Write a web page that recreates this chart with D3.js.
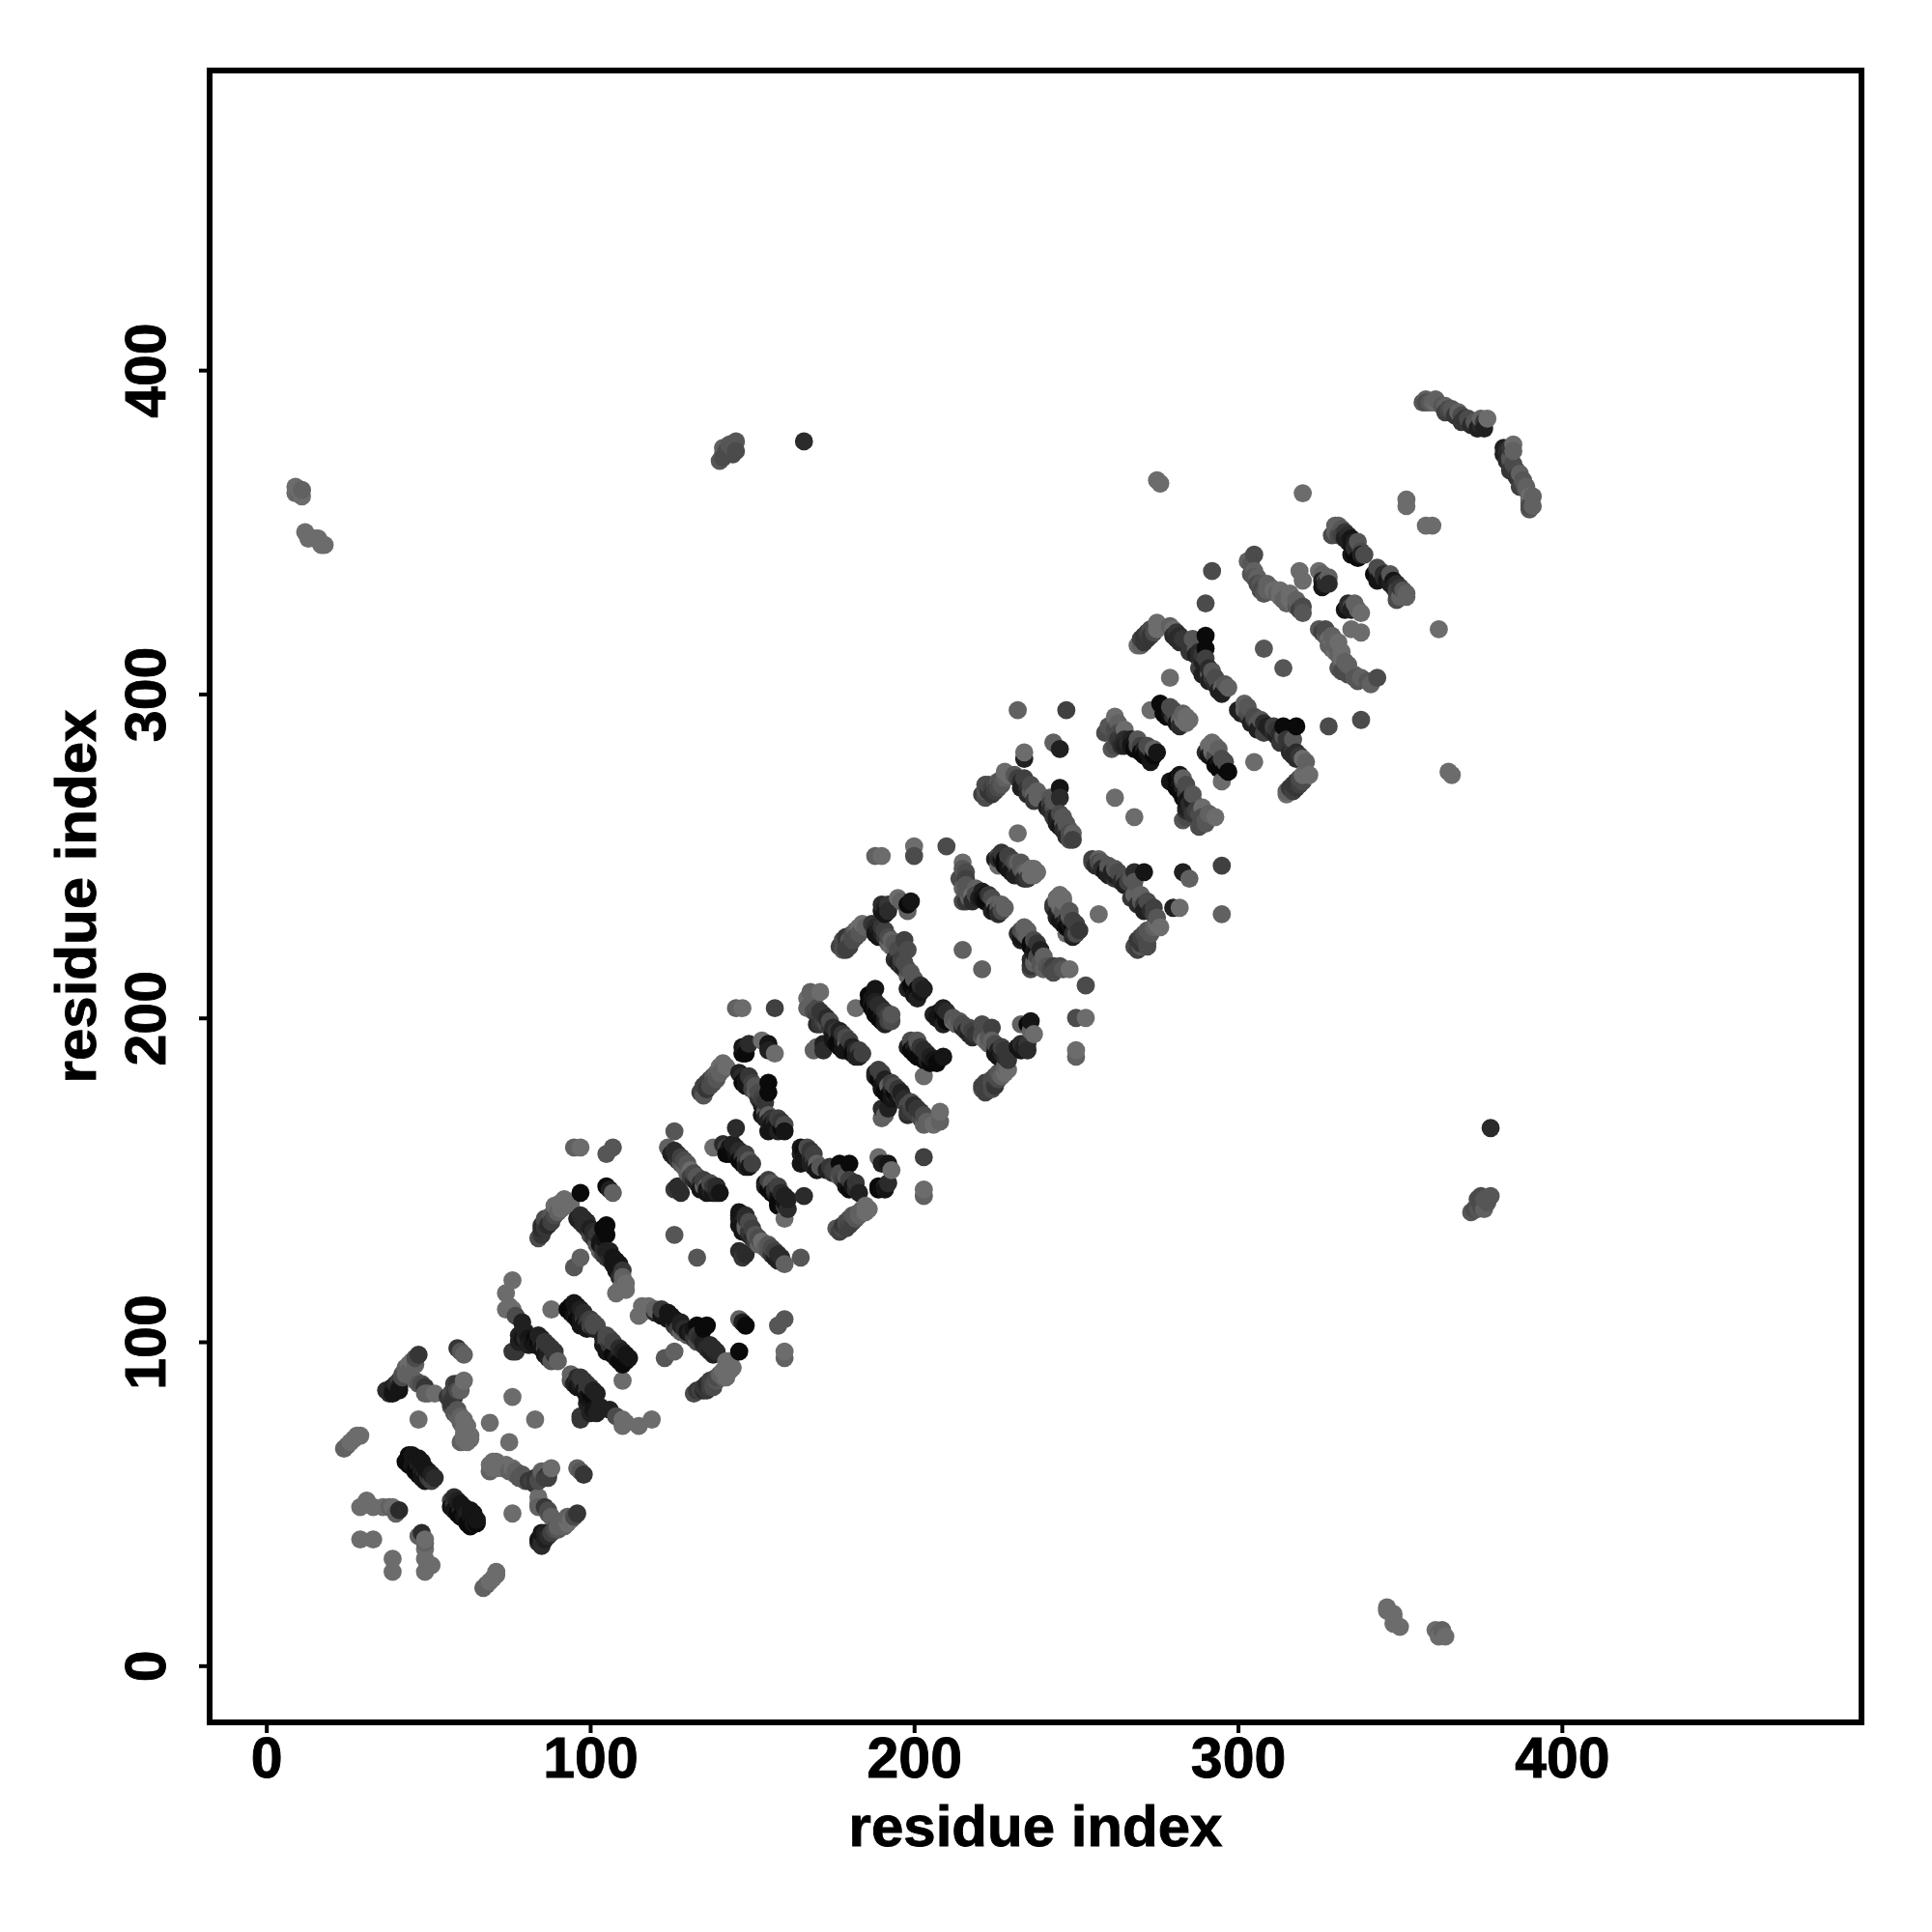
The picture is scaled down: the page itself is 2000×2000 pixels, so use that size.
<!DOCTYPE html>
<html><head><meta charset="utf-8"><script src="https://cdn.jsdelivr.net/npm/d3@7"></script>
<style>html,body{margin:0;background:#fff}svg{display:block}</style></head><body><svg id="c" width="2000" height="2000"></svg>
<script>
const tickLabels=[0,100,200,300,400];
const axisDomain=[-17.5,492.5];
const axisTitle="residue index";
// each contact: [residue i, residue j, strength 0-9]; the map is symmetric
const contactsFar=[[9,364,0],[10,362,1],[10,363,0],[11,361,0],[12,350,0],[13,348,0],[15,348,0],[16,348,0],[17,346,0],[18,346,0],[11,363,1],[9,362,0],
[140,372,2],[141,374,2],[141,376,1],[143,377,2],[144,374,3],[145,378,2],[145,375,3],[141,373,3],[142,375,3],[144,376,2],[166,378,6],[275,366,0],[276,365,0],[320,362,0],[352,360,0],[352,358,0],
[358,391,1],[359,390,2],[360,390,1],[361,390,0],[363,389,2],[364,389,1],[365,388,3],[366,388,2],[368,387,1],[369,386,3],[370,385,5],[371,385,3],[372,384,3],[373,384,2],[375,383,6],[376,384,5],[377,385,0],
[357,390,2],[358,390,3],[361,391,1],[364,387,4],[367,386,5],[369,384,5],[372,383,6],[374,382,7],[375,385,1],[376,382,7]];
const contactsLow=[[24,67,1],[25,68,1],[26,69,0],[27,70,0],[28,71,0],[29,71,0],
[29,49,0],[31,51,0],[33,49,0],[36,49,0],[38,49,1],[39,49,0],[41,48,6],[40,47,1],[29,39,0],[33,39,0],
[37,85,6],[38,85,6],[39,86,7],[40,87,6],[41,88,4],[42,90,2],[43,92,1],[44,93,0],[43,90,1],[45,94,0],[47,96,5],
[46,88,1],[47,87,2],[48,87,3],[49,86,5],[50,84,1],[52,84,0],[49,84,1],
[44,64,8],[45,63,9],[46,63,8],[45,62,8],[46,61,8],[47,62,7],[48,60,7],[49,60,6],[50,58,5],[51,57,4],
[47,76,0],[59,98,5],[61,96,1],[60,97,2],[61,88,0],[59,87,5],[58,86,4],[57,84,3],[57,82,4],[57,80,2],[58,78,2],[59,77,1],[61,76,0],[62,74,0],[62,72,0],[63,70,0],[60,69,1],[62,69,0],[63,71,0],[69,75,0],[76,83,0],
[76,119,0],[74,115,0],[74,110,0],[76,110,0],[75,111,0],[77,108,3],[79,106,7],[79,103,7],[78,100,7],[76,97,5],[77,97,5],[80,101,6],[81,101,8],[82,100,8],[83,101,9],[84,100,9],[85,99,5],[86,98,4],[87,97,7],[88,96,7],[89,96,6],[88,94,2],[90,94,1],
[88,110,0],[94,111,9],[95,110,9],[95,108,8],[96,109,7],[97,107,8],[97,105,8],[98,107,5],[99,106,5],[100,105,4],[101,106,3]];
const rowsLow=[[44,65,9],[45,65,8],[47,64,8],[48,63,8],[49,61,8],[50,60,8],[51,59,7],[52,58,6],[43,63,9],[44,62,9],[46,60,9],[47,59,9],[48,58,8],[49,57,8],
[38,84,6],[39,84,8],[41,86,7],[41,85,8],[42,89,3],[44,91,1],[46,93,1],[46,95,3],
[78,102,7],[79,101,8],[80,103,7],[81,99,7],[83,99,8],[84,102,7],[85,101,7],[86,100,5],[87,99,5],[88,98,5],[89,97,5],[85,98,8],[86,96,8],[87,95,7],
[93,110,9],[94,109,9],[95,112,8],[96,111,8],[96,107,9],[97,110,7],[98,109,6],[98,105,8],[99,104,8],[100,107,4],[101,104,7],[101,105,3],[102,105,3],
[58,87,4],[59,85,3],[60,85,1],[58,83,5],[57,81,5],[56,83,5],[59,79,2],[60,77,1],[60,75,1],[61,73,0],[61,71,0],[61,70,0]];
const contactsMid=[[84,132,3],[85,134,4],[85,136,5],[86,137,4],[87,138,3],[88,139,2],[89,141,1],[90,142,0],[91,143,0],[92,142,0],[94,143,0],[94,142,0],
[97,146,9],[97,137,7],[98,136,6],[99,135,6],[100,133,3],[101,132,5],[102,130,2],[103,128,1],[105,136,9],[105,133,9],[104,127,4],[105,126,5],[106,126,6],[107,124,8],[108,122,8],[109,124,8],[109,120,6],[110,118,0],[111,118,0],[108,115,0],[109,116,0],[111,116,0],
[105,148,9],[106,147,7],[107,146,1],[105,158,2],[107,160,2],[95,160,1],[97,160,0],[97,126,1],[95,123,2],
[124,160,1],[126,165,2],[125,158,7],[126,157,7],[127,156,5],[128,155,2],[129,154,1],[130,152,1],[131,153,0],[132,150,6],[133,149,7],[134,149,5],[135,148,1],[136,148,1],[137,147,7],[138,146,8],[139,146,7],[126,147,5],[127,148,6],[128,146,6],[126,133,2],
[138,160,0],[142,160,4],[143,160,8],[144,159,9],[145,158,8],[146,157,7],[147,157,5],[148,156,4],[149,156,2],[145,166,6],
[135,178,3],[135,176,2],[136,179,4],[136,180,4],[137,181,4],[138,182,2],[139,183,1],[140,185,0],[141,186,0],[142,185,0],
[147,182,6],[148,181,8],[149,180,8],[150,178,4],[151,177,1],[152,175,5],[153,173,7],[154,171,2],[155,180,9],[155,177,9],[155,170,1],[156,169,5],[157,168,6],[158,167,8],[159,166,9],[155,165,8],[156,166,8],[158,165,7],
[147,189,9],[148,191,7],[149,192,6],[153,193,0],[155,192,8],[157,189,0],[145,203,1],[147,203,0],[157,203,4],
[168,208,1],[171,208,0],[167,206,0],[167,203,1],[168,204,1],[169,202,3],[170,201,4],[171,200,4],[172,199,4],[173,198,3],[174,197,5],[175,195,8],[176,194,7],[177,194,9],[178,193,7],[179,192,1],[180,191,8],[181,191,7],[182,190,6],[183,190,4],[169,190,1],[170,191,1],[172,192,7],[172,190,6],
[182,203,0],[188,209,8],[187,204,7],[187,206,8],[188,203,8],[189,202,9],[190,201,8],[191,200,7],[192,199,4],[193,199,3],
[178,221,2],[178,222,3],[179,223,4],[179,225,5],[180,224,2],[181,226,3],[182,227,1],[183,228,0],[184,229,0],[185,228,1],[188,228,6],[189,227,7],[190,226,7],[191,225,5],[192,223,1],[193,222,0],[194,221,1],[197,224,4],[198,221,3],[195,219,5],[196,216,6],[197,215,7],[198,213,1],[199,212,0],[200,210,9],[201,209,9],[198,209,7],[202,208,8],
[190,233,8],[191,234,7],[192,235,5],[195,237,0],[196,236,1],[198,233,1],[198,235,9],[199,236,8]];
const rowsMid=[[85,133,5],[85,135,6],[86,135,5],[86,138,3],[87,136,6],[88,137,4],[89,139,3],[89,142,0],[90,140,1],[91,141,0],[92,144,0],
[96,138,7],[97,139,6],[98,138,6],[99,137,6],[100,135,7],[101,134,6],[102,133,5],[103,131,7],[104,129,6],[105,128,7],[106,128,7],[107,126,8],[108,125,8],[110,122,5],[110,120,1],[104,132,8],[104,135,9],[103,130,8],
[126,159,6],[127,158,6],[128,157,4],[129,156,3],[130,155,2],[131,151,4],[132,152,3],[133,151,2],[134,147,8],[135,150,4],[136,146,8],[137,149,3],[138,148,5],[139,148,6],[140,146,8],[136,147,8],
[141,161,6],[142,158,9],[143,158,9],[144,161,7],[145,160,7],[146,159,6],[147,155,9],[148,158,4],[149,154,8],[150,155,4],[146,156,9],[148,154,7],
[134,177,4],[135,179,4],[136,178,5],[137,179,3],[138,180,3],[139,181,2],[140,183,1],[141,184,1],
[146,183,7],[147,180,9],[148,179,8],[149,182,5],[150,180,4],[151,179,2],[152,177,3],[153,175,4],[154,174,5],[153,170,8],[154,169,7],[155,168,7],[156,167,8],[157,166,8],[158,169,4],[159,168,5],[160,167,3],[160,165,8],
[147,191,8],[148,189,9],[155,190,7],
[170,203,3],[171,202,5],[172,201,5],[173,200,6],[174,199,3],[175,197,6],[176,196,5],[177,196,7],[178,195,5],[179,194,3],[180,193,4],[181,189,9],[182,188,7],[183,188,7],[184,189,4],[175,193,8],[176,192,9],[177,191,9],[178,190,8],[179,190,8],[170,198,6],[171,198,5],
[186,207,9],[186,205,9],[187,203,9],[188,205,7],[188,201,9],[189,204,6],[190,203,6],[191,202,5],[192,201,4],[193,201,2],[189,200,9],[190,199,9],[191,198,7],
[177,222,4],[178,224,3],[179,221,4],[180,222,4],[181,224,3],[182,225,3],[183,226,2],[187,229,5],[188,226,8],[189,225,8],[190,228,5],[191,227,4],[192,225,3],[193,224,1],[194,223,2],[195,221,3],[194,218,6],[195,217,7],[196,218,4],[197,217,3],[198,215,3],[199,214,2],[200,212,2],[199,210,9],[200,207,8],[201,206,7],[202,210,6],[203,209,7],
[190,235,6],[191,232,8],[192,233,6]];
const contactsHigh=[[215,221,1],[188,250,1],[190,250,0],[200,253,0],[200,250,3],[210,253,3],
[215,248,0],[215,246,2],[216,245,3],[216,243,4],[216,241,2],[215,236,3],[216,236,5],[217,237,1],[218,238,0],[219,240,1],[221,239,7],[222,238,8],[223,236,9],[224,233,7],[225,235,1],[226,234,2],[227,235,1],[228,234,1],
[226,250,3],[226,247,0],[227,249,8],[228,249,9],[229,248,8],[230,247,6],[232,246,3],[233,246,2],[234,245,1],[235,245,0],[236,244,0],[237,244,0],[232,257,0],
[222,268,3],[222,270,2],[223,270,5],[224,271,4],[225,272,3],[226,273,2],[228,274,1],[229,275,0],[231,275,2],[232,274,4],[233,273,6],[234,272,7],[235,271,5],[236,270,2],[237,269,1],[238,268,1],[245,271,8],[245,268,6],[242,268,2],[242,266,4],[243,265,3],[243,262,5],[244,262,7],[245,261,7],[246,260,2],[247,258,4],[248,258,2],[249,257,1],[247,256,6],[248,255,3],
[262,268,0],[243,285,1],[245,283,7],[247,295,4],[232,295,1],[234,280,7],[234,282,0],
[262,293,0],[263,291,1],[265,289,0],[263,288,3],[264,287,4],[264,286,5],[261,283,2],[262,284,3],[265,286,6],[267,286,7],[268,285,8],[269,284,3],[270,284,4],[271,283,7],[272,282,8],[273,281,8],[274,281,9],
[273,295,0],[277,296,9],[278,295,9],[279,294,8],[280,293,5],[281,293,3],[282,292,1],[283,292,0],[284,291,0],
[269,315,0],[270,315,1],[270,317,4],[271,318,5],[272,317,5],[273,320,3],[275,322,0],[275,320,0],[280,320,0],[281,319,5],[282,318,6],[283,317,5],[286,315,5],[287,314,2],[290,318,9],[290,314,9],[288,311,6],[288,308,4],[289,310,7],[290,309,7],[291,306,2],[292,305,5],[293,303,6],[294,303,3],[295,302,1],
[279,305,0],[290,328,3],[292,338,3],
[303,341,1],[305,343,3],[305,338,1],[306,336,1],[307,334,2],[308,333,3],[309,332,1],[311,332,0],[312,331,1],[313,330,0],[315,330,1],[316,329,0],[317,328,0],[318,327,2],[320,327,3],[308,314,2],
[319,338,0],[320,335,0],[325,338,0],[326,337,1],[327,335,3],[327,334,6],
[330,350,1],[331,352,1],[332,351,2],[333,350,5],[334,349,6],[335,348,8],[336,347,7],[337,345,6],[338,344,3],[336,343,9]];
const rowsHigh=[[214,243,3],[215,242,3],[215,240,1],[216,239,2],[217,239,2],[218,236,6],[219,238,3],[220,237,7],[221,237,8],[222,236,9],[223,238,5],[224,237,3],[225,233,8],[226,232,6],[227,233,3],
[225,249,7],[226,249,6],[227,251,5],[228,247,9],[229,250,4],[230,249,4],[231,248,3],[232,248,1],[229,246,8],[230,245,8],[231,244,7],[232,244,7],[233,248,2],[234,243,6],[235,243,5],[236,246,0],[237,246,0],[238,245,0],
[221,269,4],[222,272,3],[223,272,3],[224,269,5],[225,270,4],[226,271,3],[227,272,2],[228,276,0],[233,271,7],[234,274,4],[235,269,6],[236,272,3],[237,267,5],[238,270,1],[241,265,7],[242,264,6],[243,267,2],[244,260,7],[245,263,3],[246,262,2],[246,258,6],[247,260,2],[248,257,3],[249,255,4],[245,259,8],
[259,288,3],[260,290,2],[261,290,2],[262,289,3],[263,286,5],[264,284,6],[265,284,7],[266,285,6],[267,284,8],[268,283,9],[269,286,2],[270,282,9],[271,281,9],[272,284,3],[273,283,3],[274,283,1],[275,282,8],[273,279,8],
[276,297,9],[277,294,9],[278,293,9],[279,296,3],[280,295,3],[281,291,8],[282,290,6],[283,294,1],[284,293,0],[285,292,0],
[271,316,5],[272,319,4],[273,318,5],[274,319,3],[279,321,1],[280,318,6],[281,317,6],[282,316,6],[285,313,5],[286,317,2],[287,312,7],[288,313,6],[289,306,7],[289,312,5],[290,311,4],[291,308,6],[291,304,7],[292,307,2],[293,305,3],[294,301,7],[295,300,7],[296,303,2],[297,302,1],
[304,340,2],[304,337,2],[305,336,2],[306,334,3],[307,332,3],[308,331,2],[309,334,1],[310,333,1],[313,332,0],[314,329,1],[315,328,1],[316,331,0],[318,329,1],[319,326,4],[320,325,2],
[329,349,3],[330,352,1],[331,349,3],[332,349,4],[333,348,7],[334,347,7],[335,346,8],[336,345,6],[337,347,2],[338,343,7],[339,343,3],[335,343,8],[337,342,9],
[326,335,7],[326,333,8],[328,336,1],[328,334,6]];

const all=[...contactsFar,...contactsLow,...rowsLow,...contactsMid,...rowsMid,...contactsHigh,...rowsHigh];
const points=all.flatMap(([i,j,s])=>[{a:i,b:j,s},{a:j,b:i,s}]).sort((p,q)=>d3.ascending(p.a,q.a));
const L=217,R=1927,T=73,B=1783;
const x=d3.scaleLinear().domain(axisDomain).range([L,R]);
const y=d3.scaleLinear().domain(axisDomain).range([B,T]);
const shade=d3.scaleLinear().domain([0,9]).range(["#6c6c6c","#0a0a0a"]);
const svg=d3.select("#c");
const font="'Liberation Sans',Arial,sans-serif";
svg.append("rect").attr("width",2000).attr("height",2000).attr("fill","#fff");
svg.append("g").selectAll("circle").data(points).join("circle")
 .attr("cx",d=>x(d.a)).attr("cy",d=>y(d.b)).attr("r",9.4).attr("fill",d=>shade(d.s));
const gx=svg.append("g").attr("transform",`translate(0,${B})`).call(d3.axisBottom(x).tickValues(tickLabels).tickSize(11).tickPadding(9).tickFormat(d3.format("d")));
const gy=svg.append("g").attr("transform",`translate(${L},0)`).call(d3.axisLeft(y).tickValues(tickLabels).tickSize(11).tickPadding(0).tickFormat(d3.format("d")));
[gx,gy].forEach(g=>{g.select(".domain").remove();g.selectAll("line").attr("stroke","#000").attr("stroke-width",4);
 g.selectAll("text").attr("font-family",font).attr("font-weight",700).attr("font-size",59).attr("fill","#000").attr("stroke","#000").attr("stroke-width",0.9);});
gx.selectAll("text").attr("dy",null).attr("dominant-baseline",null).attr("y",57);
gy.selectAll("text").attr("x",null).attr("dy",null).attr("text-anchor","middle").attr("transform","translate(-46,0) rotate(-90)");
svg.append("rect").attr("x",L).attr("y",T).attr("width",R-L).attr("height",B-T).attr("fill","none").attr("stroke","#000").attr("stroke-width",6);
svg.append("text").attr("x",(L+R)/2).attr("y",1911).attr("text-anchor","middle").attr("font-family",font).attr("font-weight",700).attr("font-size",60).attr("stroke","#000").attr("stroke-width",0.9).text(axisTitle);
svg.append("text").attr("transform",`translate(99,${(T+B)/2}) rotate(-90)`).attr("text-anchor","middle").attr("font-family",font).attr("font-weight",700).attr("font-size",60).attr("stroke","#000").attr("stroke-width",0.9).text(axisTitle);
</script></body></html>
